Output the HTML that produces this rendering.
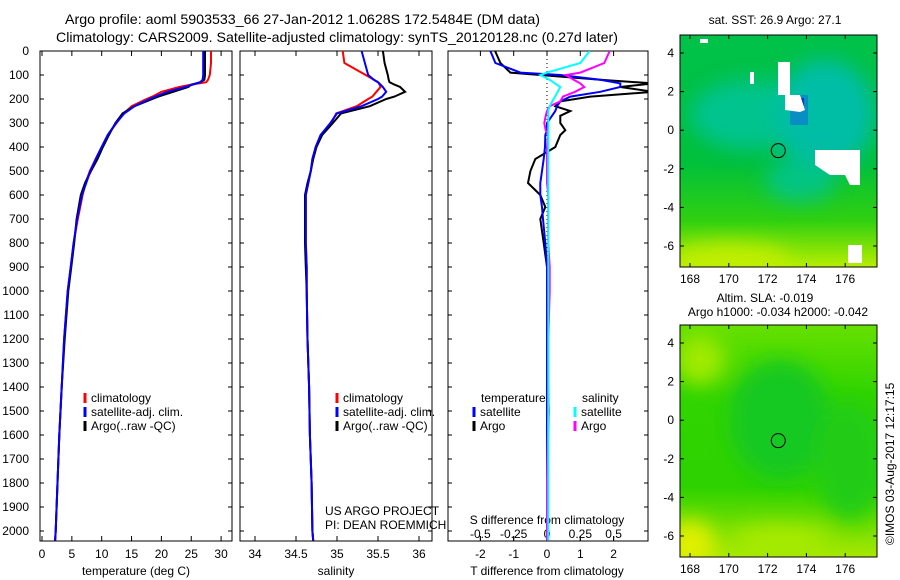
<!DOCTYPE html>
<html><head><meta charset="utf-8"><style>
body{margin:0;background:#fff}
svg{display:block;font-family:"Liberation Sans",sans-serif}
</style></head><body>
<svg id="c" width="900" height="580" viewBox="0 0 900 580">
<defs>
<linearGradient id="m1bg" x1="0" y1="0" x2="0" y2="1">
<stop offset="0" stop-color="#00c24a"/><stop offset="0.55" stop-color="#00c03c"/><stop offset="0.8" stop-color="#30d010"/><stop offset="1" stop-color="#b8ee00"/></linearGradient>
<linearGradient id="m2bg" x1="0" y1="0" x2="0" y2="1">
<stop offset="0" stop-color="#66e000"/><stop offset="0.3" stop-color="#30d400"/><stop offset="0.7" stop-color="#2ed200"/><stop offset="1" stop-color="#a8e800"/></linearGradient>
<filter id="bl" x="-50%" y="-50%" width="200%" height="200%"><feGaussianBlur stdDeviation="10"/></filter>
<clipPath id="cm1"><rect x="680" y="35" width="197" height="232"/></clipPath>
<clipPath id="cm2"><rect x="680" y="325" width="197" height="232"/></clipPath>
<clipPath id="cp3"><rect x="448" y="51" width="200" height="490"/></clipPath>
</defs>
<text x="65" y="24" font-size="14" textLength="475" lengthAdjust="spacingAndGlyphs">Argo profile: aoml 5903533_66 27-Jan-2012 1.0628S 172.5484E (DM data)</text>
<text x="56" y="42" font-size="14" textLength="562" lengthAdjust="spacingAndGlyphs">Climatology: CARS2009. Satellite-adjusted climatology: synTS_20120128.nc (0.27d later)</text>

<g clip-path="url(#cm1)">
<rect x="680" y="35" width="197" height="232" fill="url(#m1bg)"/>
<g filter="url(#bl)" opacity="0.75">
<ellipse cx="750" cy="115" rx="60" ry="35" fill="#00c4a8"/>
<ellipse cx="825" cy="115" rx="50" ry="55" fill="#00bcc8"/>
<ellipse cx="800" cy="180" rx="35" ry="22" fill="#00c4a0"/>
</g>
<g filter="url(#bl)">
<ellipse cx="730" cy="262" rx="60" ry="18" fill="#c0ee00"/>
</g>
<rect x="796" y="98" width="8" height="8" fill="#0a1f8c"/>
<rect x="790" y="95" width="18" height="30" fill="#1060e0" opacity="0.5"/>
<polygon points="773,62 790,62 790,95 800,95 805,110 800,112 785,110 785,95 778,95 778,62" fill="#fff"/>
<polygon points="815,150 860,150 860,185 850,185 845,175 830,175 815,165" fill="#fff"/>
<rect x="750" y="72" width="4" height="12" fill="#fff"/>
<rect x="700" y="39" width="8" height="4" fill="#fff"/>
<rect x="848" y="245" width="14" height="18" fill="#fff"/>
</g>
<g clip-path="url(#cm2)">
<rect x="680" y="325" width="197" height="232" fill="url(#m2bg)"/>
<g filter="url(#bl)">
<ellipse cx="780" cy="420" rx="50" ry="60" fill="#18c824"/>
<ellipse cx="850" cy="460" rx="35" ry="60" fill="#20cc18"/>
<ellipse cx="690" cy="545" rx="25" ry="25" fill="#e0f000"/>
<ellipse cx="780" cy="540" rx="50" ry="15" fill="#a8ea00"/>
<ellipse cx="700" cy="360" rx="25" ry="25" fill="#a0ea00"/>
</g>
</g>
<g id="frames" fill="none" stroke="#000" stroke-width="1"></g>
<g id="plots"></g>
<text x="775" y="24" font-size="12" text-anchor="middle">sat. SST: 26.9 Argo: 27.1</text>
<text x="765" y="302" font-size="12" text-anchor="middle">Altim. SLA: -0.019</text>
<text x="778" y="316" font-size="12" text-anchor="middle">Argo h1000: -0.034 h2000: -0.042</text>
<text transform="translate(894,545) rotate(-90)" font-size="12">©IMOS 03-Aug-2017 12:17:15</text>
<text x="325" y="515" font-size="12">US ARGO PROJECT</text>
<text x="325" y="529" font-size="12">PI: DEAN ROEMMICH</text>
</svg>
<script>
const depths=[0,50,100,120,130,140,150,170,190,200,230,260,300,350,400,450,500,550,600,700,800,900,1000,1200,1400,1600,1800,2000,2040];
const tempClim=[28.3,28.3,28.1,27.8,27.5,25,23,20,18.5,17.5,15,13.7,12.5,11,10,9,8,7.3,6.8,6,5.3,4.8,4.3,3.7,3.3,2.9,2.6,2.3,2.2];
const tempSat=[27.0,27.0,27.0,26.9,26.5,25.3,24,21,19,18,15.5,13.8,12.4,11,10,9,8.1,7.4,6.7,5.9,5.3,4.8,4.3,3.7,3.3,2.9,2.6,2.3,2.2];
const tempArgo=[27.3,27.3,27.3,27.2,26.5,25,24.5,22,19.5,18.5,15.5,13.5,12.3,11.2,10.2,9.3,8.2,7.2,6.5,5.8,5.4,4.9,4.4,3.8,3.3,2.9,2.6,2.3,2.2];
const salClim=[35.07,35.09,35.35,35.45,35.5,35.52,35.53,35.48,35.43,35.38,35.24,34.99,34.93,34.8,34.74,34.7,34.68,34.65,34.62,34.62,34.62,34.63,34.63,34.64,34.66,34.67,34.69,34.7,34.71];
const salSat=[35.3,35.34,35.38,35.45,35.5,35.53,35.56,35.6,35.55,35.5,35.3,35.0,34.92,34.8,34.74,34.7,34.68,34.65,34.62,34.62,34.62,34.63,34.63,34.64,34.66,34.67,34.69,34.7,34.71];
const salArgo=[35.56,35.58,35.62,35.63,35.64,35.7,35.77,35.83,35.7,35.6,35.4,35.05,34.95,34.82,34.75,34.71,34.68,34.64,34.61,34.61,34.61,34.62,34.63,34.64,34.66,34.67,34.69,34.7,34.71];
const diffDepths=[0,50,90,100,120,135,150,170,190,210,230,250,270,300,330,350,400,450,500,550,600,650,700,800,900,1000,1200,1500,1800,2040];
const dTArgo=[-1.56,-1.4,-1.1,-0.2,1.6,3.2,2.2,3.2,1.3,0.4,0.25,0.7,0.4,0.4,0.55,0.4,0.25,-0.35,-0.5,-0.57,-0.2,-0.05,-0.2,-0.1,0,0,0,0.05,0,0];
const dTSat=[-1.7,-1.55,-0.8,0.4,1.6,2.2,2.2,1.6,0.7,0.4,0.3,0.25,0.15,0,0,-0.05,-0.06,-0.1,-0.15,-0.2,-0.2,-0.15,-0.12,-0.05,0,0,0,0,0,0];
const dSArgo=[0.47,0.43,0.25,0.14,0.2,0.25,0.28,0.21,0.12,0.1,0.02,0,-0.01,-0.02,-0.01,0.01,0,0,0,0,0.01,0.01,0.01,0.01,0.02,0.02,0.01,0.01,0.0,0];
const dSSat=[0.32,0.25,0,-0.05,0.02,0.06,0.1,0.08,0.06,0.04,0.02,0.01,0.01,0.01,0.01,0.01,0.01,0.01,0.01,0.01,0.01,0.01,0.01,0.01,0.01,0.01,0.01,0.01,0.01,0.01];
const depthTicks=[0,100,200,300,400,500,600,700,800,900,1000,1100,1200,1300,1400,1500,1600,1700,1800,1900,2000];
const tempTicks=[0,5,10,15,20,25,30];
const salTicks=[34,34.5,35,35.5,36];
const dTTicks=[-2,-1,0,1,2];
const dSTicks=[-0.5,-0.25,0,0.25,0.5];
const lonTicks=[168,170,172,174,176];
const latTicks=[4,2,0,-2,-4,-6];

const NS='http://www.w3.org/2000/svg';
const plots=document.getElementById('plots');
const frames=document.getElementById('frames');
function mk(tag,at,parent){const e=document.createElementNS(NS,tag);for(const k in at)e.setAttribute(k,at[k]);(parent||plots).appendChild(e);return e;}
const yD=d=>51+d*0.24;
const xT=t=>42+t*5.97;
const xS=s=>255+(s-34)*82;
const xDT=t=>547+t*33.3;
const xDS=s=>547+s*133.3;
const mx=l=>690+(l-168)*19.4;
const my1=l=>53+(4-l)*19.3;
const my2=l=>343+(4-l)*19.3;

const panels=[[40,51,192,490],[240,51,192,490],[448,51,200,490],[680,35,197,232],[680,325,197,232]];
panels.forEach((p,i)=>{
  const r=mk('rect',{x:p[0],y:p[1],width:p[2],height:p[3],fill:'none',stroke:'#000'},frames);
  
  
});
function tick(x1,y1,x2,y2){mk('line',{x1,y1,x2,y2,stroke:'#000'});}
function label(x,y,t,anchor,name,size){const e=mk('text',{x,y,'font-size':size||12,'text-anchor':anchor||'middle'});e.textContent=t;
  
  
  return e;}
depthTicks.forEach(d=>{
  const y=yD(d);
  label(29,y+4,String(d),'end','depth-tick-label');
  [[40,232],[240,432],[448,648]].forEach(([a,b])=>{tick(a,y,a+4,y);tick(b-4,y,b,y);});
});
tempTicks.forEach(t=>{const x=xT(t);tick(x,541,x,536);tick(x,51,x,56);label(x,558,String(t),'middle','temp-tick-label');});
salTicks.forEach(s=>{const x=xS(s);tick(x,541,x,536);tick(x,51,x,56);label(x,558,String(s),'middle','salinity-tick-label');});
dTTicks.forEach(t=>{const x=xDT(t);tick(x,541,x,536);tick(x,51,x,56);label(x,558,String(t),'middle','tdiff-tick-label');});
dSTicks.forEach(s=>{const x=xDS(s);tick(x,541,x,536);label(x,538,String(s),'middle','sdiff-tick-label');});
label(136,575,'temperature (deg C)','middle','x-axis-title-temperature');
label(336,575,'salinity','middle','x-axis-title-salinity');
label(547,575,'T difference from climatology','middle','x-axis-title-tdiff');
label(547,524,'S difference from climatology','middle','x-axis-title-sdiff');
[[my1,35,267],[my2,325,557]].forEach(([fy,top,bot],k)=>{
  lonTicks.forEach(l=>{const x=mx(l);tick(x,bot,x,bot-4);tick(x,top,x,top+4);label(x,bot+16,String(l),'middle','lon-tick-label');});
  latTicks.forEach(l=>{const y=fy(l);tick(680,y,684,y);tick(873,y,877,y);label(674,y+4,String(l),'end','lat-tick-label');});
  const c=mk('circle',{cx:mx(172.55),cy:fy(-1.06),r:7,fill:'none',stroke:'#000'});
  
  
});
const zl=mk('line',{x1:xDT(0),y1:51,x2:xDT(0),y2:541,stroke:'#000','stroke-dasharray':'1,3'});



function series(xs,ds,fx,color,name,clip){
  const pts=xs.map((v,i)=>fx(v).toFixed(1)+','+yD(ds[i]).toFixed(1)).join(' ');
  const at={points:pts,fill:'none',stroke:color,'stroke-width':2};
  if(clip)at['clip-path']='url(#cp3)';
  const e=mk('polyline',at);
  
  
}
series(tempClim,depths,xT,'#f00','temp-climatology-line');
series(tempArgo,depths,xT,'#000','temp-argo-line');
series(tempSat,depths,xT,'#00f','temp-satellite-line');
series(salClim,depths,xS,'#f00','sal-climatology-line');
series(salArgo,depths,xS,'#000','sal-argo-line');
series(salSat,depths,xS,'#00f','sal-satellite-line');
series(dTArgo,diffDepths,xDT,'#000','tdiff-argo-line',1);
series(dTSat,diffDepths,xDT,'#00f','tdiff-satellite-line',1);
series(dSArgo,diffDepths,xDS,'#f0f','sdiff-argo-line',1);
series(dSSat,diffDepths,xDS,'#0ff','sdiff-satellite-line',1);

function legendItem(x,y,color,text,name){
  const l=mk('line',{x1:x,y1:y-9,x2:x,y2:y+1,stroke:color,'stroke-width':3});
  
  
  label(x+6,y,text,'start',name);
}
[85,337].forEach((x,k)=>{
  legendItem(x,402,'#f00','climatology','legend-climatology');
  legendItem(x,416,'#00f','satellite-adj. clim.','legend-satellite');
  legendItem(x,430,'#000','Argo(..raw -QC)','legend-argo');
});
label(481,402,'temperature','start','legend-temperature-heading');
legendItem(474,416,'#00f','satellite','legend-tdiff-satellite');
legendItem(474,430,'#000','Argo','legend-tdiff-argo');
label(582,402,'salinity','start','legend-salinity-heading');
legendItem(575,416,'#0ff','satellite','legend-sdiff-satellite');
legendItem(575,430,'#f0f','Argo','legend-sdiff-argo');
</script>
</body></html>
